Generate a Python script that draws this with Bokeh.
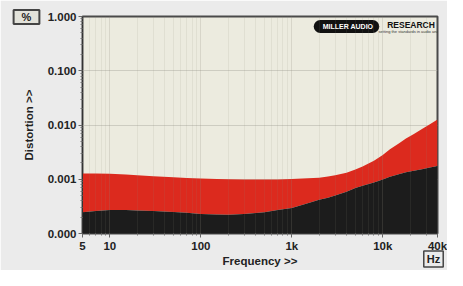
from bokeh.plotting import figure
from bokeh.models import FixedTicker, Label
from bokeh.embed import file_html
from bokeh.resources import INLINE

# ---- data ----
freq = [5, 7, 10, 15, 20, 30, 50, 70, 100, 150, 200, 300, 500, 700, 1000, 1500,
        2000, 2500, 3000, 4000, 5000, 6000, 8000, 10000, 12000, 15000, 18000,
        22000, 27000, 33000, 40000]
dist_upper = [0.00128, 0.00128, 0.00126, 0.00122, 0.00119, 0.00114, 0.00109,
              0.00106, 0.00103, 0.00101, 0.00100, 0.00099, 0.00099, 0.00099,
              0.00101, 0.00104, 0.00107, 0.00112, 0.00118, 0.00132, 0.00152,
              0.00172, 0.00220, 0.00280, 0.00356, 0.00455, 0.00566, 0.0068,
              0.0084, 0.0103, 0.0126]
dist_lower = [0.000246, 0.00026, 0.00027, 0.00027, 0.000265, 0.00026, 0.00025,
              0.00024, 0.00023, 0.000225, 0.000222, 0.000228, 0.000246, 0.00027,
              0.000295, 0.00036, 0.00042, 0.000455, 0.0005, 0.00059, 0.00069,
              0.00076, 0.00087, 0.00099, 0.00111, 0.00123, 0.00134, 0.00143,
              0.00153, 0.00164, 0.00175]

x_ticks = [5, 10, 100, 1000, 10000, 40000]
x_tick_labels = ["5", "10", "100", "1k", "10k", "40k"]
y_ticks = [0.0001, 0.001, 0.01, 0.1, 1.0]
y_tick_labels = ["0.000", "0.001", "0.010", "0.100", "1.000"]
x_range = (5, 40000)
y_range = (0.0001, 1.0)

FONT = "Liberation Sans"

p = figure(width=447, height=270, x_axis_type="log", y_axis_type="log",
           x_range=x_range, y_range=y_range, output_backend="svg",
           toolbar_location=None,
           min_border_left=79, min_border_right=10, min_border_top=16,
           min_border_bottom=37)

p.background_fill_color = "#ecebdf"
p.border_fill_color = "#ebebeb"
p.outline_line_color = "#4a4a4a"
p.outline_line_width = 2

floor = [y_range[0]] * len(freq)
p.varea(x=freq, y1=dist_lower, y2=dist_upper, fill_color="#dc2a1e")
p.varea(x=freq, y1=floor, y2=dist_lower, fill_color="#1c1c1c")

# minor tick positions (decade multiples)
x_minor = [m * d for d in (1, 10, 100, 1000, 10000) for m in range(2, 10)
           if x_range[0] < m * d < x_range[1]]
y_minor = [m * d for d in (0.0001, 0.001, 0.01, 0.1) for m in range(2, 10)]

p.xaxis.ticker = FixedTicker(ticks=x_ticks, minor_ticks=x_minor)
p.yaxis.ticker = FixedTicker(ticks=y_ticks, minor_ticks=y_minor)
p.xaxis.major_label_overrides = dict(zip(x_ticks, x_tick_labels))
p.yaxis.major_label_overrides = dict(zip(y_ticks, y_tick_labels))

for ax in (p.xaxis, p.yaxis):
    ax.axis_line_color = "#333333"
    ax.major_tick_line_color = "#666666"
    ax.minor_tick_line_color = "#777777"
    ax.major_tick_out = 4
    ax.major_tick_in = 0
    ax.minor_tick_out = 2
    ax.minor_tick_in = 0
    ax.major_label_text_font = FONT
    ax.major_label_text_font_style = "bold"
    ax.major_label_text_font_size = "11.5px"
    ax.major_label_text_color = "#222222"
    ax.axis_label_text_font = FONT
    ax.axis_label_text_font_style = "bold"
    ax.axis_label_text_font_size = "11.5px"
    ax.axis_label_text_color = "#222222"

p.xaxis.axis_label = "Frequency >>"
p.yaxis.axis_label = "Distortion >>"
p.xaxis.major_label_standoff = 2
p.xaxis.axis_label_standoff = 0
p.yaxis.major_label_standoff = 2
p.yaxis.axis_label_standoff = 10

p.xgrid.level = "overlay"
p.xgrid.grid_line_color = "#8c8a7a"
p.xgrid.grid_line_alpha = 0.22
p.xgrid.minor_grid_line_color = "#8c8a7a"
p.xgrid.minor_grid_line_alpha = 0.12
p.ygrid.grid_line_color = "#b5b3a8"
p.ygrid.grid_line_alpha = 0.55

# unit boxes: side-panel labels (not clipped to the frame)
p.add_layout(Label(x=-56, y=-0.5, x_units="screen", y_units="screen", text="%",
                   text_align="center", text_baseline="middle",
                   text_font=FONT, text_font_style="bold", text_font_size="11px",
                   text_color="#222222",
                   border_line_color="#444444", border_line_width=2,
                   background_fill_color="#e2e2da",
                   padding=dict(left=8, right=8, top=1, bottom=1)), "above")
p.add_layout(Label(x=433, y=-25.5, x_units="screen", y_units="screen", text="Hz",
                   text_align="center", text_baseline="middle",
                   text_font=FONT, text_font_style="bold", text_font_size="11px",
                   text_color="#222222",
                   border_line_color="#444444", border_line_width=1.5,
                   background_fill_color="#ebebeb",
                   padding=dict(left=3, right=3, top=2, bottom=2)), "left")

# logo (inside the frame)
p.add_layout(Label(x=264, y=207, x_units="screen", y_units="screen",
                   text="MILLER AUDIO", text_align="center", text_baseline="middle",
                   text_font=FONT, text_font_style="bold",
                   text_font_size="7px", text_color="#ffffff",
                   background_fill_color="#111111", border_radius=7,
                   padding=dict(left=9, right=6, top=3, bottom=3)))
p.add_layout(Label(x=328.5, y=208.5, x_units="screen", y_units="screen",
                   text="RESEARCH", text_align="center", text_baseline="middle",
                   text_font=FONT, text_font_style="bold",
                   text_font_size="8.5px", text_color="#111111"))
p.add_layout(Label(x=330, y=202, x_units="screen", y_units="screen",
                   text="setting the standards in audio analysis",
                   text_align="center", text_baseline="middle",
                   text_font=FONT, text_font_size="4px", text_color="#333333"))

with open("out.html", "w") as f:
    f.write(file_html(p, INLINE))
